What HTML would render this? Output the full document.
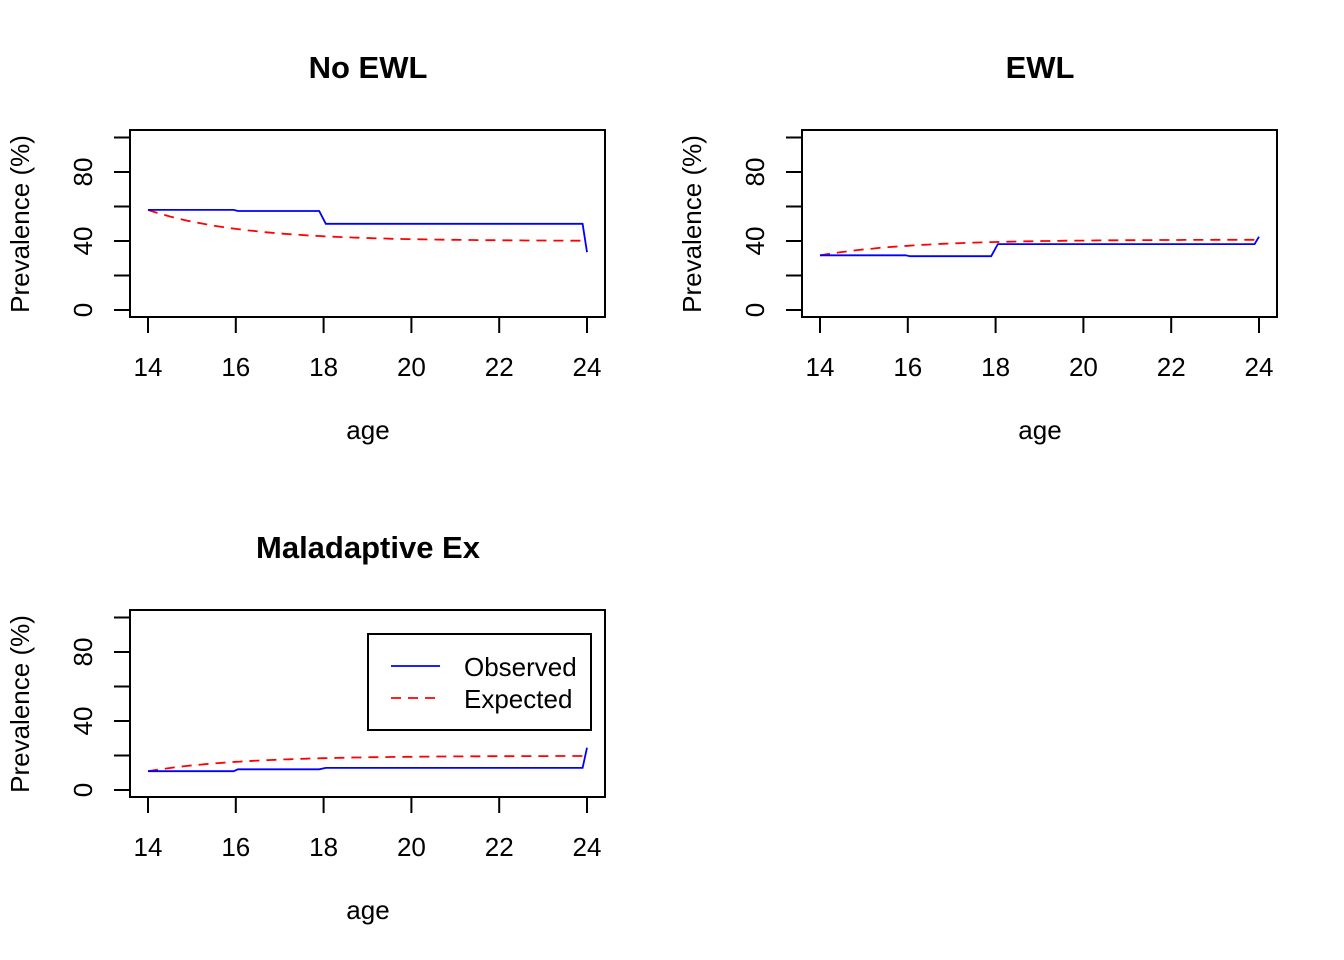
<!DOCTYPE html>
<html><head><meta charset="utf-8"><style>
body{margin:0;background:#fff}
svg{display:block}
text{font-family:"Liberation Sans",Arial,sans-serif;fill:#000}
</style></head><body>
<svg id="s" width="1344" height="960" viewBox="0 0 1344 960" xmlns="http://www.w3.org/2000/svg"></svg>
<script>
var s=document.getElementById('s'),h='';
function X(ox,a){return ox+148+(a-14)*43.9;}
function Y(oy,v){return oy+310-v*1.725;}
function panel(ox,oy,title,obs,e0,e1){
 h+='<rect x="'+(ox+130)+'" y="'+(oy+130)+'" width="475" height="187" fill="none" stroke="#000" stroke-width="2"/>';
 h+='<text x="'+(ox+368)+'" y="'+(oy+78)+'" font-size="31" font-weight="bold" text-anchor="middle">'+title+'</text>';
 for(var v=0;v<=100;v+=20){var y=Y(oy,v);h+='<line x1="'+(ox+114)+'" x2="'+(ox+130)+'" y1="'+y+'" y2="'+y+'" stroke="#000" stroke-width="2"/>';}
 [0,40,80].forEach(function(v){var y=Y(oy,v);h+='<text transform="translate('+(ox+92)+','+y+') rotate(-90)" font-size="26" text-anchor="middle">'+v+'</text>';});
 h+='<text transform="translate('+(ox+29)+','+(oy+224)+') rotate(-90)" font-size="26" text-anchor="middle">Prevalence (%)</text>';
 for(var a=14;a<=24;a+=2){var x=X(ox,a);h+='<line x1="'+x+'" x2="'+x+'" y1="'+(oy+317)+'" y2="'+(oy+333)+'" stroke="#000" stroke-width="2"/><text x="'+x+'" y="'+(oy+376)+'" font-size="26" text-anchor="middle">'+a+'</text>';}
 h+='<text x="'+(ox+368)+'" y="'+(oy+439)+'" font-size="26" text-anchor="middle">age</text>';
 var p=[];for(var t=14;t<=24.001;t+=0.1){var v=e1+(e0-e1)*Math.exp(-0.47*(t-14));p.push(X(ox,t).toFixed(1)+','+Y(oy,v).toFixed(1));}
 h+='<polyline points="'+p.join(' ')+'" fill="none" stroke="#f00" stroke-width="1.8" stroke-dasharray="10,7"/>';
 h+='<polyline points="'+obs.map(function(q){return X(ox,q[0]).toFixed(1)+','+Y(oy,q[1]).toFixed(1)}).join(' ')+'" fill="none" stroke="#00f" stroke-width="1.8"/>';
}
panel(0,0,'No EWL',[[14,58],[15.95,58],[16.05,57.4],[17.9,57.4],[18.05,50],[23.9,50],[24,33.5]],58,40);
panel(672,0,'EWL',[[14,31.7],[15.95,31.7],[16.05,31.2],[17.9,31.2],[18.05,38.2],[23.9,38.2],[24,42.5]],31.7,40.8);
panel(0,480,'Maladaptive Ex',[[14,10.9],[15.95,10.9],[16.05,12],[17.9,12],[18.05,12.8],[23.9,12.8],[24,24.5]],10.9,19.8);
h+='<rect x="368" y="634" width="223" height="96" fill="#fff" stroke="#000" stroke-width="2"/>';
h+='<line x1="391" x2="440" y1="666" y2="666" stroke="#00f" stroke-width="1.8"/>';
h+='<line x1="391" x2="440" y1="698" y2="698" stroke="#f00" stroke-width="1.8" stroke-dasharray="10,7"/>';
h+='<text x="464" y="676" font-size="26">Observed</text><text x="464" y="708" font-size="26">Expected</text>';
s.innerHTML=h;
</script>
</body></html>
